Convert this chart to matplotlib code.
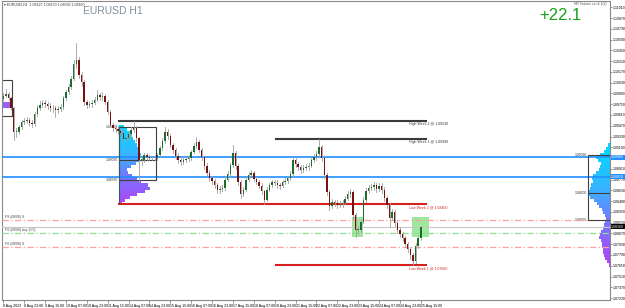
import numpy as np
import matplotlib.pyplot as plt
import matplotlib.transforms as mtransforms
from matplotlib.patches import Rectangle
from matplotlib.colors import LinearSegmentedColormap

plt.rcParams['font.family'] = ['Liberation Sans', 'DejaVu Sans']

# EURUSD H1, one candle = 2 hourly bars, first bar 8 Aug 07:00
first_open = 1.0982
closes = [1.0986, 1.0988, 1.0983, 1.0970, 1.0939, 1.0939, 1.0945, 1.0952, 1.0953, 1.0955,
          1.0951, 1.0949, 1.0962, 1.0970, 1.0974, 1.0977, 1.0975, 1.0973, 1.0970, 1.0970,
          1.0968, 1.0969, 1.0971, 1.0983, 1.0991, 1.0997, 1.1008, 1.1027, 1.1032, 1.1013,
          1.1004, 1.0978, 1.0974, 1.0975, 1.0977, 1.0981, 1.0987, 1.0984, 1.0986, 1.0978,
          1.0965, 1.0948, 1.0944, 1.0943, 1.0940, 1.0938, 1.0930, 1.0931, 1.0936, 1.0942,
          1.0944, 1.0931, 1.0903, 1.0903, 1.0909, 1.0906, 1.0905, 1.0905, 1.0905, 1.0909,
          1.0918, 1.0927, 1.0939, 1.0934, 1.0922, 1.0916, 1.0908, 1.0903, 1.0900, 1.0903,
          1.0904, 1.0905, 1.0913, 1.0921, 1.0926, 1.0916, 1.0906, 1.0895, 1.0886, 1.0879,
          1.0875, 1.0870, 1.0864, 1.0865, 1.0866, 1.0877, 1.0884, 1.0896, 1.0912, 1.0895,
          1.0874, 1.0858, 1.0864, 1.0877, 1.0883, 1.0886, 1.0878, 1.0874, 1.0869, 1.0862,
          1.0851, 1.0864, 1.0870, 1.0874, 1.0873, 1.0870, 1.0869, 1.0874, 1.0875, 1.0879,
          1.0884, 1.0903, 1.0897, 1.0893, 1.0890, 1.0892, 1.0893, 1.0895, 1.0903, 1.0906,
          1.0910, 1.0919, 1.0905, 1.0883, 1.0861, 1.0843, 1.0848, 1.0847, 1.0844, 1.0845,
          1.0847, 1.0852, 1.0858, 1.0861, 1.0831, 1.0812, 1.0812, 1.0822, 1.0851, 1.0862,
          1.0866, 1.0867, 1.0870, 1.0865, 1.0869, 1.0864, 1.0853, 1.0844, 1.0827, 1.0835,
          1.0821, 1.0812, 1.0806, 1.0801, 1.0793, 1.0787, 1.0779, 1.0771, 1.0791, 1.0801,
          1.0816]
highs = [1.0990, 1.0995, 1.0991, 1.0985, 1.0972, 1.0944, 1.0948, 1.0955, 1.0957, 1.0958,
         1.0957, 1.0954, 1.0965, 1.0974, 1.0979, 1.0981, 1.0980, 1.0978, 1.0976, 1.0974,
         1.0973, 1.0973, 1.0975, 1.0986, 1.0994, 1.1001, 1.1012, 1.1033, 1.1055, 1.1036,
         1.1017, 1.1006, 1.0981, 1.0979, 1.0981, 1.0985, 1.0993, 1.0990, 1.0991, 1.0988,
         1.0980, 1.0967, 1.0951, 1.0948, 1.0947, 1.0944, 1.0941, 1.0935, 1.0940, 1.0946,
         1.0953, 1.0947, 1.0933, 1.0907, 1.0912, 1.0911, 1.0909, 1.0908, 1.0909, 1.0912,
         1.0921, 1.0931, 1.0946, 1.0943, 1.0936, 1.0925, 1.0918, 1.0911, 1.0906, 1.0906,
         1.0907, 1.0909, 1.0916, 1.0925, 1.0932, 1.0929, 1.0918, 1.0908, 1.0898, 1.0889,
         1.0882, 1.0878, 1.0873, 1.0869, 1.0870, 1.0880, 1.0888, 1.0899, 1.0922, 1.0914,
         1.0897, 1.0876, 1.0868, 1.0880, 1.0887, 1.0890, 1.0888, 1.0881, 1.0877, 1.0872,
         1.0864, 1.0867, 1.0873, 1.0877, 1.0877, 1.0876, 1.0873, 1.0877, 1.0879, 1.0882,
         1.0888, 1.0907, 1.0906, 1.0900, 1.0896, 1.0896, 1.0897, 1.0899, 1.0906, 1.0910,
         1.0914, 1.0930, 1.0922, 1.0907, 1.0885, 1.0863, 1.0852, 1.0851, 1.0850, 1.0849,
         1.0850, 1.0856, 1.0862, 1.0865, 1.0863, 1.0833, 1.0817, 1.0826, 1.0854, 1.0866,
         1.0870, 1.0871, 1.0874, 1.0873, 1.0873, 1.0872, 1.0867, 1.0856, 1.0846, 1.0839,
         1.0837, 1.0824, 1.0815, 1.0809, 1.0804, 1.0796, 1.0790, 1.0782, 1.0794, 1.0805,
         1.0817]
lows = [1.0978, 1.0984, 1.0980, 1.0967, 1.0929, 1.0933, 1.0936, 1.0943, 1.0949, 1.0950,
        1.0947, 1.0945, 1.0947, 1.0960, 1.0967, 1.0971, 1.0972, 1.0969, 1.0966, 1.0965,
        1.0958, 1.0964, 1.0966, 1.0969, 1.0981, 1.0988, 1.0995, 1.1006, 1.1022, 1.1009,
        1.0999, 1.0974, 1.0970, 1.0971, 1.0972, 1.0975, 1.0979, 1.0980, 1.0981, 1.0975,
        1.0962, 1.0945, 1.0940, 1.0939, 1.0936, 1.0934, 1.0926, 1.0927, 1.0928, 1.0933,
        1.0939, 1.0927, 1.0874, 1.0896, 1.0900, 1.0903, 1.0902, 1.0902, 1.0902, 1.0903,
        1.0907, 1.0916, 1.0925, 1.0930, 1.0919, 1.0912, 1.0904, 1.0899, 1.0896, 1.0897,
        1.0900, 1.0901, 1.0903, 1.0911, 1.0918, 1.0913, 1.0902, 1.0891, 1.0882, 1.0875,
        1.0871, 1.0866, 1.0860, 1.0860, 1.0862, 1.0864, 1.0875, 1.0882, 1.0894, 1.0891,
        1.0870, 1.0853, 1.0856, 1.0862, 1.0875, 1.0880, 1.0875, 1.0871, 1.0866, 1.0858,
        1.0845, 1.0849, 1.0862, 1.0868, 1.0870, 1.0866, 1.0865, 1.0867, 1.0871, 1.0873,
        1.0876, 1.0882, 1.0893, 1.0889, 1.0886, 1.0887, 1.0889, 1.0890, 1.0893, 1.0900,
        1.0903, 1.0907, 1.0901, 1.0879, 1.0857, 1.0838, 1.0840, 1.0843, 1.0840, 1.0841,
        1.0842, 1.0845, 1.0850, 1.0855, 1.0826, 1.0803, 1.0806, 1.0809, 1.0820, 1.0848,
        1.0859, 1.0863, 1.0864, 1.0861, 1.0862, 1.0860, 1.0849, 1.0840, 1.0815, 1.0824,
        1.0817, 1.0808, 1.0802, 1.0797, 1.0789, 1.0783, 1.0774, 1.0766, 1.0769, 1.0788,
        1.0799]

time_labels = ["8 Aug 2023", "8 Aug 23:00", "9 Aug 15:00", "10 Aug 07:00", "10 Aug 23:00",
               "11 Aug 15:00", "14 Aug 07:00", "14 Aug 23:00", "15 Aug 15:00", "16 Aug 07:00",
               "16 Aug 23:00", "17 Aug 15:00", "18 Aug 07:00", "18 Aug 23:00", "21 Aug 15:00",
               "22 Aug 07:00", "22 Aug 23:00", "23 Aug 15:00", "24 Aug 07:00", "24 Aug 23:00",
               "25 Aug 15:00"]
price_ticks = [1.0723, 1.0737, 1.0751, 1.0765, 1.0779, 1.0793, 1.0807, 1.0821, 1.0835,
               1.0849, 1.0863, 1.0877, 1.0891, 1.0905, 1.0919, 1.0933, 1.0947, 1.0961,
               1.0975, 1.0989, 1.1003, 1.1017, 1.1031, 1.1045, 1.1059, 1.1073, 1.1087, 1.1101]

# weekly highs / lows
week_names = ["High Week 2", "High Week 1", "Low Week 2", "Low Week 1"]
week_prices = [1.0953, 1.0930, 1.0845, 1.0766]
week_start_bar = [89, 209, 89, 209]

blue_levels = [1.0906, 1.0881]
fs_labels = ["FS (08/08) S", "FS (08/08) buy (0.5)", "FS (08/08) S"]
fs_levels = [1.0825, 1.0808, 1.0789]
fs_colors = ["#ff9f9f", "#8fe08f", "#ff9f9f"]

# volume profile, week 2 (anchored at week start) and week 1 (anchored right)
vp2_prices = [1.0946, 1.0942, 1.0938, 1.0934, 1.0930, 1.0926, 1.0922, 1.0918, 1.0914,
              1.0910, 1.0906, 1.0902, 1.0898, 1.0894, 1.0890, 1.0886, 1.0882, 1.0878,
              1.0874, 1.0870, 1.0866, 1.0862, 1.0858, 1.0854, 1.0850, 1.0846]
vp2_vols = [5, 8, 10, 12, 14, 16, 18, 20, 21, 22, 21, 20, 17, 12, 8, 9, 13, 18, 22, 29,
            31, 26, 18, 11, 6, 3]
vp2_box = [1.0945, 1.0903, 1.0876]
vp1_prices = [1.0922, 1.0918, 1.0914, 1.0910, 1.0906, 1.0902, 1.0898, 1.0894, 1.0890,
              1.0886, 1.0882, 1.0878, 1.0874, 1.0870, 1.0866, 1.0862, 1.0858, 1.0854,
              1.0850, 1.0846, 1.0842, 1.0838, 1.0834, 1.0830, 1.0826, 1.0822, 1.0818,
              1.0814, 1.0810, 1.0806, 1.0802, 1.0798, 1.0794, 1.0790, 1.0786, 1.0782,
              1.0778, 1.0774, 1.0770, 1.0766]
vp1_vols = [2, 4, 6, 10, 14, 12, 9, 10, 11, 14, 17, 18, 17, 19, 20, 21, 22, 20, 16, 13,
            11, 8, 7, 5, 4, 5, 6, 7, 9, 10, 11, 9, 8, 8, 7, 7, 6, 5, 3, 1]
vp1_box = [1.0909, 1.0860, 1.0825]

zone_low, zone_high = 1.0802, 1.0828
zone_bars = [(267, 276), (313, 326)]

px_per_bar = 1.3047
step = 0.0004

fig = plt.figure(figsize=(6.25, 3.08), dpi=100)
ax = fig.add_axes([2 / 625, 8 / 308, 608 / 625, 299 / 308])
ax.set_xlim(-1, 465)
ax.set_ylim(1.07205, 1.11092)

# green zones
for b0, b1 in zone_bars:
    ax.add_patch(Rectangle((b0, zone_low), b1 - b0, zone_high - zone_low,
                           facecolor="#7ee07e", alpha=0.75, edgecolor="none", zorder=1))

cmap = LinearSegmentedColormap.from_list("vp", ["#00d8ff", "#33b8ff", "#7a72ff", "#b044f5"])

# week 2 profile
n2 = len(vp2_prices)
for i, (p, v) in enumerate(zip(vp2_prices, vp2_vols)):
    ax.barh(p, v / px_per_bar, height=step, left=89, color=cmap(i / (n2 - 1)),
            edgecolor="none", zorder=2)
ax.add_patch(Rectangle((89, vp2_box[2]), 28, vp2_box[0] - vp2_box[2],
                       fill=False, edgecolor="#404040", lw=0.8, zorder=4))
ax.plot([89, 117], [vp2_box[1], vp2_box[1]], color="#404040", lw=0.8, zorder=4)
ax.plot([89, 89], [vp2_prices[-1], vp2_box[0]], color="#2f5f5f", lw=0.8, zorder=4)
for p in vp2_box:
    ax.text(88, p, "%.5f" % p, fontsize=2.4, ha="right", va="center", color="#333333")

# week 1 profile
n1 = len(vp1_prices)
for i, (p, v) in enumerate(zip(vp1_prices, vp1_vols)):
    w = v / px_per_bar
    ax.barh(p, w, height=step, left=465 - w, color=cmap(i / (n1 - 1)),
            edgecolor="none", zorder=2)
ax.add_patch(Rectangle((448, vp1_box[2]), 20, vp1_box[0] - vp1_box[2],
                       fill=False, edgecolor="#404040", lw=0.8, zorder=4, clip_on=True))
ax.plot([448, 465], [vp1_box[1], vp1_box[1]], color="#404040", lw=0.8, zorder=4)
for p in vp1_box:
    ax.text(447, p, "%.5f" % p, fontsize=2.4, ha="right", va="center", color="#333333")

# previous week profile stub at left edge
ax.add_patch(Rectangle((-2, 1.0960), 9, 0.0047, fill=False, edgecolor="#404040", lw=0.8))
ax.barh(1.0974, 6, height=0.0007, left=-1, color="#9a60f0", edgecolor="none")

# horizontal levels
for p in blue_levels:
    ax.axhline(p, color="#1e90ff", lw=1.2, zorder=3)
for lbl, p, c in zip(fs_labels, fs_levels, fs_colors):
    ax.axhline(p, color=c, lw=0.9, ls=(0, (5, 2, 1, 2)), zorder=3)
    ax.text(1, p + 0.00012, lbl, fontsize=2.4, color="#444444", va="bottom")
ax.axhline(closes[-1], color="#c8c8c8", lw=0.8, zorder=3)

for name, p, b in zip(week_names, week_prices, week_start_bar):
    col = "#3a3a3a" if name.startswith("High") else "#d42020"
    ax.plot([b, 324], [p, p], color=col, lw=1.5, zorder=3)
    ax.text(311, p - 0.00015, "%s @ %.5f" % (name, p), fontsize=2.6,
            color=col if col != "#3a3a3a" else "#333333", va="top")

# candles
opens = [first_open] + closes[:-1]
xs = np.arange(len(closes)) * 2
for x, o, h, l, c in zip(xs, opens, highs, lows, closes):
    ax.plot([x, x], [l, h], color="#a0a0a0", lw=0.6, zorder=5)
    body_col = "#1e6b2e" if c >= o else "#7a1010"
    ax.add_patch(Rectangle((x - 0.55, min(o, c)), 1.1, max(abs(c - o), 0.00006),
                           facecolor=body_col, edgecolor="none", zorder=6))

# axes styling
for s in ax.spines.values():
    s.set_color("#8a8a8a")
    s.set_linewidth(0.8)
ax.set_xticks(np.arange(len(time_labels)) * 16)
ax.set_xticklabels(time_labels, fontsize=2.6, ha="left")
ax.tick_params(axis="x", length=2, width=0.5, pad=0.8, color="#666666")
ax.yaxis.tick_right()
ax.set_yticks(price_ticks)
ax.set_yticklabels(["%.5f" % p for p in price_ticks], fontsize=2.5)
ax.tick_params(axis="y", length=1.5, width=0.5, pad=0.6, color="#666666")

trans = mtransforms.blended_transform_factory(ax.transAxes, ax.transData)
for p in blue_levels:
    ax.text(1.002, p, "%.5f" % p, transform=trans, fontsize=2.5, color="white",
            va="center", ha="left", zorder=10,
            bbox=dict(facecolor="#1e90ff", edgecolor="none", pad=0.4))
ax.text(1.002, closes[-1], "%.5f" % closes[-1], transform=trans, fontsize=2.5,
        color="white", va="center", ha="left", zorder=10,
        bbox=dict(facecolor="black", edgecolor="none", pad=0.4))

# header texts
fig.text(4 / 625, 1 - 5 / 308, "\u25be EURUSD,H1  1.08127 1.08170 1.08093 1.08160",
         fontsize=2.6, color="#333333", va="center")
fig.text(83 / 625, 1 - 11 / 308, "EURUSD H1", fontsize=7.5, color="#8090a0", va="center")
fig.text(606 / 625, 1 - 4 / 308, "HR Volume ver.4.1(2)", fontsize=2.4, color="#555555",
         ha="right", va="center")
fig.text(581 / 625, 1 - 15 / 308, "+22.1", fontsize=12, color="#18a018",
         ha="right", va="center")

plt.savefig("out.png", dpi=100)
